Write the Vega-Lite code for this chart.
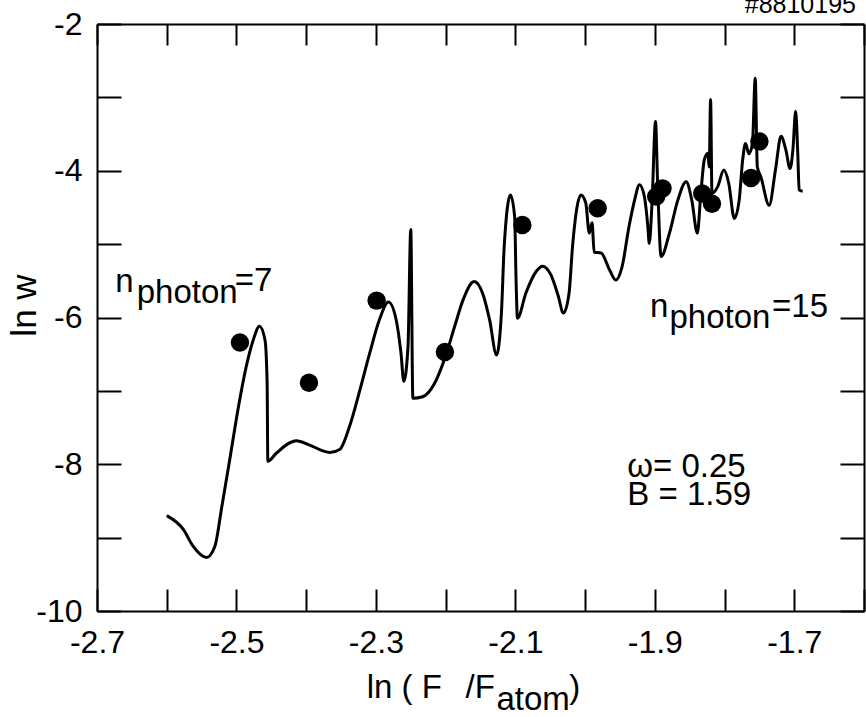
{
  "$schema": "https://vega.github.io/schema/vega-lite/v6.json",
  "width": 767,
  "height": 587,
  "autosize": {"type": "none"},
  "padding": {"left": 97, "top": 24, "right": 2, "bottom": 106},
  "background": "white",
  "config": {
    "view": {"stroke": null},
    "font": "Liberation Sans",
    "axis": {
      "grid": false,
      "domainColor": "black",
      "domainWidth": 2,
      "tickColor": "black",
      "tickWidth": 2,
      "labelColor": "black",
      "labelFont": "Liberation Sans",
      "labelFontSize": 32,
      "labelFlush": false,
      "labelOverlap": false,
      "titleFont": "Liberation Sans",
      "titleColor": "black",
      "titleFontWeight": "normal"
    }
  },
  "datasets": {
    "curve": [
      {"x": -2.600, "y": -8.70}, {"x": -2.576, "y": -8.89}, {"x": -2.562, "y": -9.12}, {"x": -2.543, "y": -9.27},
      {"x": -2.531, "y": -9.12}, {"x": -2.521, "y": -8.58}, {"x": -2.509, "y": -7.90}, {"x": -2.497, "y": -7.21},
      {"x": -2.486, "y": -6.67}, {"x": -2.476, "y": -6.31}, {"x": -2.467, "y": -6.12}, {"x": -2.459, "y": -6.31},
      {"x": -2.456, "y": -6.90}, {"x": -2.455, "y": -7.96}, {"x": -2.443, "y": -7.85}, {"x": -2.414, "y": -7.68},
      {"x": -2.395, "y": -7.74}, {"x": -2.366, "y": -7.84}, {"x": -2.352, "y": -7.80}, {"x": -2.338, "y": -7.49},
      {"x": -2.323, "y": -6.99}, {"x": -2.309, "y": -6.49}, {"x": -2.295, "y": -6.03}, {"x": -2.282, "y": -5.79},
      {"x": -2.271, "y": -6.03}, {"x": -2.264, "y": -6.49}, {"x": -2.260, "y": -6.87}, {"x": -2.254, "y": -6.40},
      {"x": -2.250, "y": -4.80}, {"x": -2.247, "y": -7.10}, {"x": -2.233, "y": -7.08}, {"x": -2.216, "y": -6.90},
      {"x": -2.202, "y": -6.58}, {"x": -2.187, "y": -6.12}, {"x": -2.175, "y": -5.76}, {"x": -2.159, "y": -5.51},
      {"x": -2.147, "y": -5.67}, {"x": -2.137, "y": -6.03}, {"x": -2.127, "y": -6.51}, {"x": -2.120, "y": -5.94},
      {"x": -2.116, "y": -5.03}, {"x": -2.107, "y": -4.33}, {"x": -2.101, "y": -4.63}, {"x": -2.099, "y": -5.49},
      {"x": -2.097, "y": -6.01}, {"x": -2.085, "y": -5.67}, {"x": -2.070, "y": -5.37}, {"x": -2.061, "y": -5.30},
      {"x": -2.049, "y": -5.42}, {"x": -2.039, "y": -5.69}, {"x": -2.031, "y": -5.94}, {"x": -2.023, "y": -5.67},
      {"x": -2.018, "y": -5.03}, {"x": -2.006, "y": -4.33}, {"x": -1.999, "y": -4.44}, {"x": -1.994, "y": -4.85},
      {"x": -1.990, "y": -4.71}, {"x": -1.987, "y": -5.11}, {"x": -1.977, "y": -5.12}, {"x": -1.965, "y": -5.35},
      {"x": -1.956, "y": -5.49}, {"x": -1.947, "y": -5.31}, {"x": -1.937, "y": -4.76}, {"x": -1.929, "y": -4.40},
      {"x": -1.922, "y": -4.19}, {"x": -1.915, "y": -4.35}, {"x": -1.910, "y": -4.76}, {"x": -1.908, "y": -4.99},
      {"x": -1.904, "y": -4.44}, {"x": -1.899, "y": -3.33}, {"x": -1.896, "y": -4.17}, {"x": -1.891, "y": -5.17},
      {"x": -1.879, "y": -4.85}, {"x": -1.867, "y": -4.40}, {"x": -1.855, "y": -4.15}, {"x": -1.847, "y": -4.40},
      {"x": -1.839, "y": -4.85}, {"x": -1.834, "y": -4.31}, {"x": -1.829, "y": -3.85}, {"x": -1.824, "y": -3.76},
      {"x": -1.822, "y": -3.95}, {"x": -1.820, "y": -3.03}, {"x": -1.818, "y": -4.31}, {"x": -1.810, "y": -4.22},
      {"x": -1.801, "y": -3.99}, {"x": -1.794, "y": -4.17}, {"x": -1.786, "y": -4.65}, {"x": -1.779, "y": -4.40},
      {"x": -1.774, "y": -3.85}, {"x": -1.770, "y": -3.63}, {"x": -1.765, "y": -3.77}, {"x": -1.760, "y": -3.63},
      {"x": -1.756, "y": -2.74}, {"x": -1.753, "y": -3.95}, {"x": -1.748, "y": -4.08}, {"x": -1.736, "y": -4.47},
      {"x": -1.727, "y": -3.99}, {"x": -1.719, "y": -3.53}, {"x": -1.712, "y": -3.72}, {"x": -1.706, "y": -3.97},
      {"x": -1.702, "y": -3.72}, {"x": -1.698, "y": -3.19}, {"x": -1.695, "y": -3.76}, {"x": -1.693, "y": -4.26},
      {"x": -1.688, "y": -4.28}
    ],
    "dots": [
      {"x": -2.495, "y": -6.34}, {"x": -2.396, "y": -6.89}, {"x": -2.299, "y": -5.77}, {"x": -2.201, "y": -6.47},
      {"x": -2.090, "y": -4.74}, {"x": -1.982, "y": -4.51}, {"x": -1.898, "y": -4.35}, {"x": -1.889, "y": -4.24},
      {"x": -1.832, "y": -4.31}, {"x": -1.818, "y": -4.45}, {"x": -1.762, "y": -4.10}, {"x": -1.750, "y": -3.60}
    ],
    "labels": [
      {"x": -2.674, "y": -5.651, "text": "n"},
      {"x": -2.643, "y": -5.801, "text": "photon"},
      {"x": -2.5023, "y": -5.638, "text": "=7"},
      {"x": -1.907, "y": -5.992, "text": "n"},
      {"x": -1.879, "y": -6.142, "text": "photon"},
      {"x": -1.7318, "y": -5.992, "text": "=15"},
      {"x": -1.9395, "y": -8.172, "text": "ω= 0.25"},
      {"x": -1.9395, "y": -8.553, "text": "B = 1.59"},
      {"x": -2.3133, "y": -11.183, "text": "ln ( F"},
      {"x": -2.1715, "y": -11.183, "text": "/F"},
      {"x": -2.1271, "y": -11.346, "text": "atom"},
      {"x": -2.0226, "y": -11.183, "text": ")"}
    ],
    "stamp": [
      {"x": -1.6115, "y": -1.850, "text": "#8810195"}
    ]
  },
  "layer": [
    {
      "data": {"name": "curve"},
      "mark": {"type": "line", "color": "black", "strokeWidth": 3, "interpolate": "monotone"},
      "encoding": {
        "x": {
          "field": "x", "type": "quantitative",
          "scale": {"domain": [-2.7, -1.6], "nice": false, "zero": false},
          "axis": {
            "orient": "bottom", "title": null,
            "values": [-2.7, -2.6, -2.5, -2.4, -2.3, -2.2, -2.1, -2.0, -1.9, -1.8, -1.7, -1.6],
            "tickSize": -22, "labelPadding": 38,
            "labelExpr": "abs(round(datum.value*10))%2==1 ? '' + datum.value : ''"
          }
        },
        "y": {
          "field": "y", "type": "quantitative",
          "scale": {"domain": [-10, -2], "nice": false, "zero": false},
          "axis": {
            "orient": "left", "title": "ln w", "titleFontSize": 35,
            "titleX": -62, "titleY": 281, "titleAngle": -90, "titleAlign": "center", "titleBaseline": "alphabetic",
            "values": [-10, -9, -8, -7, -6, -5, -4, -3, -2],
            "tickSize": -24, "labelPadding": 39,
            "labelExpr": "abs(round(datum.value))%2==0 ? '' + datum.value : ''"
          }
        }
      }
    },
    {
      "data": {"name": "dots"},
      "mark": {"type": "circle", "color": "black", "opacity": 1, "size": 340},
      "encoding": {
        "x": {
          "field": "x", "type": "quantitative",
          "scale": {"domain": [-2.7, -1.6], "nice": false, "zero": false},
          "axis": {
            "orient": "top", "title": null, "labels": false,
            "values": [-2.7, -2.6, -2.5, -2.4, -2.3, -2.2, -2.1, -2.0, -1.9, -1.8, -1.7, -1.6],
            "tickSize": -21
          }
        },
        "y": {
          "field": "y", "type": "quantitative",
          "scale": {"domain": [-10, -2], "nice": false, "zero": false},
          "axis": {
            "orient": "right", "title": null, "labels": false,
            "values": [-10, -9, -8, -7, -6, -5, -4, -3, -2],
            "tickSize": -24
          }
        }
      }
    },
    {
      "data": {"name": "labels"},
      "mark": {"type": "text", "font": "Liberation Sans", "fontSize": 33, "align": "left", "baseline": "alphabetic", "color": "black"},
      "encoding": {
        "x": {"field": "x", "type": "quantitative", "scale": {"domain": [-2.7, -1.6], "nice": false, "zero": false}, "axis": null},
        "y": {"field": "y", "type": "quantitative", "scale": {"domain": [-10, -2], "nice": false, "zero": false}, "axis": null},
        "text": {"field": "text", "type": "nominal"}
      }
    },
    {
      "data": {"name": "stamp"},
      "mark": {"type": "text", "font": "Liberation Sans", "fontSize": 25, "align": "right", "baseline": "alphabetic", "color": "black"},
      "encoding": {
        "x": {"field": "x", "type": "quantitative", "scale": {"domain": [-2.7, -1.6], "nice": false, "zero": false}, "axis": null},
        "y": {"field": "y", "type": "quantitative", "scale": {"domain": [-10, -2], "nice": false, "zero": false}, "axis": null},
        "text": {"field": "text", "type": "nominal"}
      }
    }
  ],
  "resolve": {"axis": {"x": "independent", "y": "independent"}}
}
